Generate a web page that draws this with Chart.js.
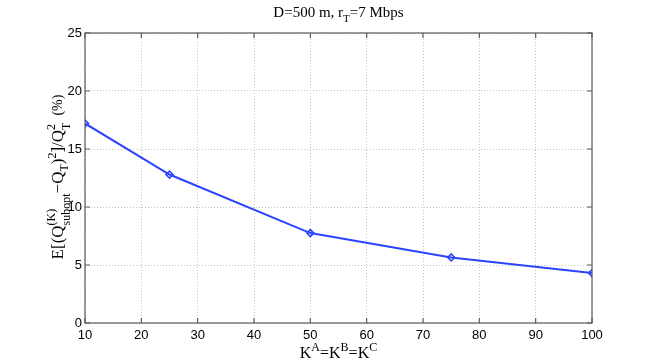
<!DOCTYPE html>
<html>
<head>
<meta charset="utf-8">
<script src="https://cdn.jsdelivr.net/npm/chart.js@4/dist/chart.umd.min.js"></script>
<style>
html,body{margin:0;padding:0;background:#fff;}
#wrap{width:654px;height:363px;position:relative;}
</style>
</head>
<body>
<div id="wrap"><canvas id="c" width="654" height="363"></canvas></div>
<script>
const categories = [10, 25, 50, 75, 100];
const values = [17.2, 12.8, 7.75, 5.65, 4.3];
const xTickLabels = [10, 20, 30, 40, 50, 60, 70, 80, 90, 100];
const yTickLabels = [0, 5, 10, 15, 20, 25];

const SERIF = '"Liberation Serif", "Times New Roman", serif';
const SANS = '"Liberation Sans", Arial, sans-serif';

function segW(ctx, s, base) {
  const small = Math.round(base * 0.72);
  if (s.m === 'n') { ctx.font = (s.size || base) + 'px ' + SERIF; return ctx.measureText(s.t).width; }
  ctx.font = small + 'px ' + SERIF;
  if (s.m === 'ss') return Math.max(ctx.measureText(s.t).width, ctx.measureText(s.s).width);
  return ctx.measureText(s.t).width;
}
function richWidth(ctx, segs, base) {
  let w = 0;
  for (const s of segs) w += segW(ctx, s, base);
  return w;
}
function drawRich(ctx, segs, base, x, y) {
  const small = Math.round(base * 0.72);
  let cx = x;
  ctx.textBaseline = 'alphabetic';
  ctx.textAlign = 'left';
  ctx.fillStyle = '#000';
  for (const s of segs) {
    const w = segW(ctx, s, base);
    if (s.m === 'n') { ctx.font = (s.size || base) + 'px ' + SERIF; ctx.fillText(s.t, cx, y + (s.dy || 0)); }
    else if (s.m === 'sup') { ctx.font = small + 'px ' + SERIF; ctx.fillText(s.t, cx, y - base * 0.42); }
    else if (s.m === 'sub') { ctx.font = small + 'px ' + SERIF; ctx.fillText(s.t, cx, y + base * 0.3); }
    else if (s.m === 'ss') {
      ctx.font = small + 'px ' + SERIF;
      ctx.fillText(s.t, cx, y - base * 0.5);
      ctx.fillText(s.s, cx, y + base * 0.4);
    }
    cx += w;
  }
}

const titleSegs = [{t:'D=500 m, r', m:'n'}, {t:'T', m:'sub'}, {t:'=7 Mbps', m:'n'}];
const xLabelSegs = [{t:'K', m:'n'}, {t:'A', m:'sup'}, {t:'=K', m:'n'}, {t:'B', m:'sup'}, {t:'=K', m:'n'}, {t:'C', m:'sup'}];
const yLabelSegs = [{t:'E[(Q', m:'n'}, {t:'(K)', s:'subopt', m:'ss'}, {t:'\u2212Q', m:'n'}, {t:'T', m:'sub'}, {t:')', m:'n'}, {t:'2', m:'sup'}, {t:']/Q', m:'n'}, {t:'2', s:'T', m:'ss'}, {t:'  (%)', m:'n', size: 14, dy: -1}];

const decor = {
  id: 'decor',
  afterDraw(chart) {
    const ctx = chart.ctx;
    const a = chart.chartArea;
    const xs = chart.scales.x, ys = chart.scales.y;
    ctx.save();
    ctx.strokeStyle = '#5a5a5a';
    ctx.lineWidth = 1.2;
    ctx.strokeRect(a.left, a.top, a.right - a.left, a.bottom - a.top);
    ctx.beginPath();
    for (const v of xTickLabels) {
      const px = xs.getPixelForValue(v);
      ctx.moveTo(px, a.bottom); ctx.lineTo(px, a.bottom - 5);
      ctx.moveTo(px, a.top); ctx.lineTo(px, a.top + 5);
    }
    for (const v of yTickLabels) {
      const py = ys.getPixelForValue(v);
      ctx.moveTo(a.left, py); ctx.lineTo(a.left + 5, py);
      ctx.moveTo(a.right, py); ctx.lineTo(a.right - 5, py);
    }
    ctx.stroke();
    const cx = (a.left + a.right) / 2;
    let w = richWidth(ctx, titleSegs, 15);
    drawRich(ctx, titleSegs, 15, cx - w / 2, 17);
    w = richWidth(ctx, xLabelSegs, 16);
    drawRich(ctx, xLabelSegs, 16, cx - w / 2, 358);
    w = richWidth(ctx, yLabelSegs, 17);
    ctx.translate(63, (a.top + a.bottom) / 2 - 1);
    ctx.rotate(-Math.PI / 2);
    drawRich(ctx, yLabelSegs, 17, -w / 2, 0);
    ctx.restore();
  }
};

new Chart(document.getElementById('c'), {
  type: 'line',
  data: {
    datasets: [{
      data: categories.map((x, i) => ({x: x, y: values[i]})),
      borderColor: '#2a44ff',
      borderWidth: 2,
      pointStyle: 'rectRot',
      pointRadius: 3.5,
      pointBorderWidth: 1.6,
      pointBackgroundColor: 'rgba(0,0,0,0)',
      pointBorderColor: '#2a44ff',
      tension: 0,
      fill: false
    }]
  },
  options: {
    responsive: false,
    animation: false,
    devicePixelRatio: 1,
    layout: { padding: { left: 0, right: 62, top: 33, bottom: 0 } },
    plugins: { legend: { display: false }, title: { display: false }, tooltip: { enabled: false } },
    scales: {
      x: {
        type: 'linear', min: 10, max: 100,
        afterBuildTicks(s) { s.ticks = xTickLabels.map(v => ({value: v})); },
        afterFit(s) { s.height = 40; },
        grid: { color: '#c4c4c4', lineWidth: 1, drawTicks: false },
        border: { display: false, dash: [1, 2] },
        ticks: { color: '#000', font: { family: SANS, size: 13 }, padding: 5, maxRotation: 0, callback: v => String(v) }
      },
      y: {
        type: 'linear', min: 0, max: 25,
        afterBuildTicks(s) { s.ticks = yTickLabels.map(v => ({value: v})); },
        afterFit(s) { s.width = 85; },
        grid: { color: '#c4c4c4', lineWidth: 1, drawTicks: false },
        border: { display: false, dash: [1, 2] },
        ticks: { color: '#000', font: { family: SANS, size: 13 }, padding: 3, callback: v => String(v) }
      }
    }
  },
  plugins: [decor]
});
</script>
</body>
</html>
